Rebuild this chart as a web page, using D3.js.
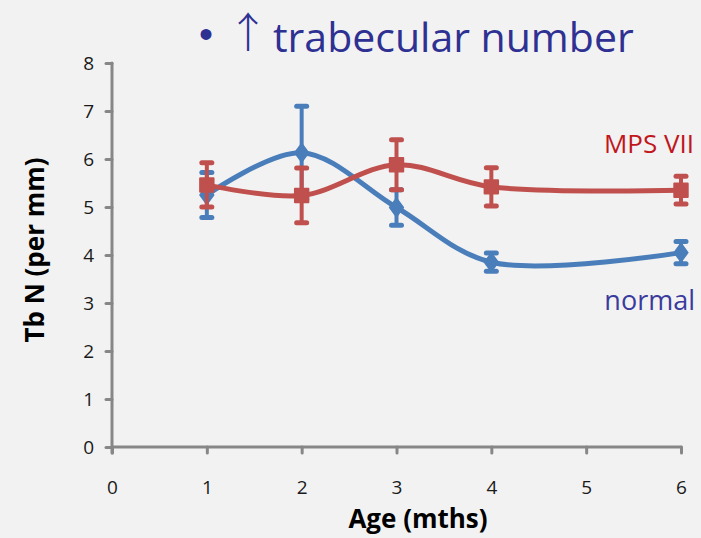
<!DOCTYPE html>
<html>
<head>
<meta charset="utf-8">
<script src="https://cdn.jsdelivr.net/npm/d3@7"></script>
<style>
  html, body { margin: 0; padding: 0; background: #f2f2f2; }
  svg { display: block; }
</style>
</head>
<body>
<svg id="chart" width="701" height="538"></svg>
<script>
// Trabecular number by age, normal vs MPS VII
const ages = [1, 2, 3, 4, 6];
const normalMean = [5.25, 6.13, 4.99, 3.85, 4.05];
const normalErr  = [0.47, 0.97, 0.37, 0.19, 0.23];
const mpsMean    = [5.46, 5.24, 5.88, 5.42, 5.35];
const mpsErr     = [0.46, 0.57, 0.52, 0.40, 0.29];
const xTicks = [0, 1, 2, 3, 4, 5, 6];
const yTicks = [0, 1, 2, 3, 4, 5, 6, 7, 8];

const svg = d3.select("#chart");
const font = "'Open Sans', sans-serif";

const x = d3.scaleLinear().domain([0, 6]).range([112, 681]);
const y = d3.scaleLinear().domain([0, 8]).range([447, 63]);
const axisColor = "#878787";

// axes
const xAxis = svg.append("g").attr("transform", `translate(0,${y(0)})`)
  .call(d3.axisBottom(x).tickValues(xTicks).tickSize(6).tickPadding(28).tickFormat(d3.format("d")));
const yAxis = svg.append("g").attr("transform", `translate(${x(0)},0)`)
  .call(d3.axisLeft(y).tickValues(yTicks).tickSize(6).tickPadding(12).tickFormat(d3.format("d")));
[xAxis, yAxis].forEach(g => {
  g.select(".domain").attr("stroke", axisColor).attr("stroke-width", 3)
    .attr("stroke-linecap", "round");
  g.selectAll(".tick line").attr("stroke", axisColor).attr("stroke-width", 3)
    .attr("stroke-linecap", "round");
  g.selectAll(".tick text").attr("fill", "#1a1a1a")
    .style("font-family", font).style("font-size", "19px");
});
// remove the outer tick overhang of the domain path
xAxis.select(".domain").attr("d", `M${x(0)},0H${x(6)}`);
yAxis.select(".domain").attr("d", `M0,${y(0) + 6}V${y(8)}`);

const line = d3.line().x(d => x(d[0])).y(d => y(d[1])).curve(d3.curveCatmullRom.alpha(0.5));

function series(means, errs, color, shape) {
  const pts = ages.map((a, i) => [a, means[i], errs[i]]);
  const g = svg.append("g");
  g.append("path").datum(pts).attr("d", line)
    .attr("fill", "none").attr("stroke", color).attr("stroke-width", 5)
    .attr("stroke-linejoin", "round");
  // error bars
  const eb = g.selectAll(".eb").data(pts).enter().append("g");
  eb.append("line")
    .attr("x1", d => x(d[0])).attr("x2", d => x(d[0]))
    .attr("y1", d => y(d[1] + d[2])).attr("y2", d => y(d[1] - d[2]))
    .attr("stroke", color).attr("stroke-width", 4);
  [1, -1].forEach(s => {
    eb.append("line")
      .attr("x1", d => x(d[0]) - 5).attr("x2", d => x(d[0]) + 5)
      .attr("y1", d => y(d[1] + s * d[2])).attr("y2", d => y(d[1] + s * d[2]))
      .attr("stroke", color).attr("stroke-width", 5).attr("stroke-linecap", "round");
  });
  // markers
  const isSquare = shape === d3.symbolSquare;
  const sym = d3.symbol().type(shape).size(isSquare ? 180 : 110);
  g.selectAll(".mk").data(pts).enter().append("path")
    .attr("d", sym)
    .attr("transform", d => `translate(${x(d[0])},${y(d[1])})${isSquare ? "" : " scale(1.15,0.9)"}`)
    .attr("fill", color).attr("stroke", color).attr("stroke-width", 2)
    .attr("stroke-linejoin", "round");
}

series(normalMean, normalErr, "#4a7ebb", d3.symbolDiamond);
series(mpsMean, mpsErr, "#c0504d", d3.symbolSquare);

// series labels
svg.append("text").attr("x", 694).attr("y", 153).attr("text-anchor", "end")
  .attr("fill", "#c0161c").style("font-family", font).style("font-size", "26px")
  .text("MPS VII");
svg.append("text").attr("x", 695).attr("y", 310).attr("text-anchor", "end")
  .attr("fill", "#3b3b9e").style("font-family", font).style("font-size", "27px")
  .text("normal");

// axis titles
svg.append("text").attr("x", 418).attr("y", 528).attr("text-anchor", "middle")
  .attr("fill", "#000").style("font-family", font).style("font-size", "26px")
  .style("font-weight", "bold").text("Age (mths)");
svg.append("text").attr("transform", "translate(44,250) rotate(-90)")
  .attr("text-anchor", "middle").attr("fill", "#000")
  .style("font-family", font).style("font-size", "26px").style("font-weight", "bold")
  .text("Tb N (per mm)");

// heading
const titleColor = "#2e3192";
svg.append("text").attr("x", 206).attr("y", 48).attr("text-anchor", "middle")
  .attr("fill", titleColor).style("font-family", "'Liberation Sans', sans-serif")
  .style("font-size", "40px")
  .text("•");
svg.append("text").attr("x", 248).attr("y", 48).attr("text-anchor", "middle")
  .attr("fill", titleColor).style("font-family", "'Noto Sans CJK SC', 'DejaVu Sans', sans-serif")
  .style("font-size", "42px").style("font-weight", "300")
  .text("↑");
svg.append("text").attr("x", 273).attr("y", 52)
  .attr("fill", titleColor).style("font-family", font).style("font-size", "41px")
  .text("trabecular number");
</script>
</body>
</html>
